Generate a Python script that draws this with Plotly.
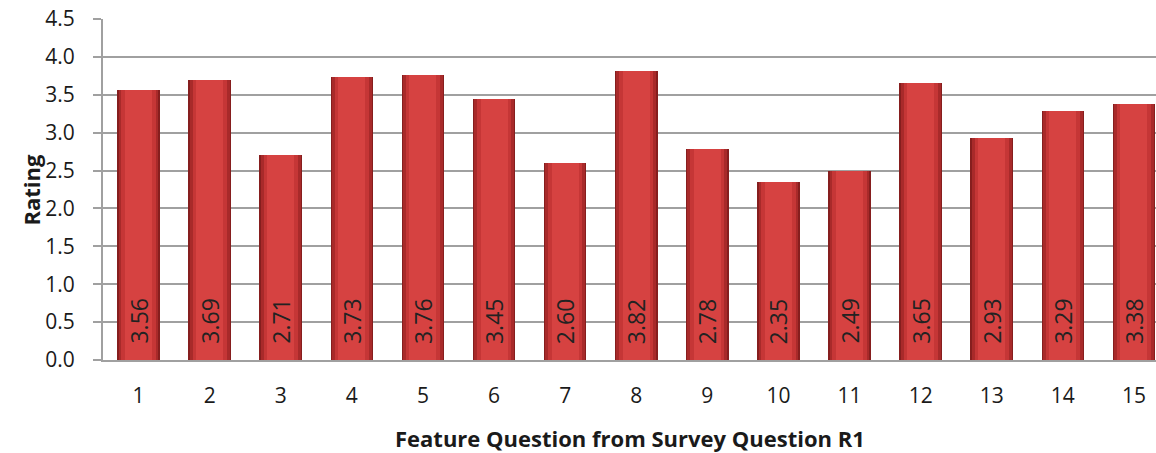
import plotly.graph_objects as go

questions = [str(i) for i in range(1, 16)]
ratings = [3.56, 3.69, 2.71, 3.73, 3.76, 3.45, 2.60, 3.82, 2.78, 2.35, 2.49, 3.65, 2.93, 3.29, 3.38]
y_ticks = [0.0, 0.5, 1.0, 1.5, 2.0, 2.5, 3.0, 3.5, 4.0, 4.5]

x_title = "Feature Question from Survey Question R1"
y_title = "Rating"

FONT = "'Open Sans', Lato, sans-serif"
xs = list(range(1, 16))

fig = go.Figure()
# layered bars to mimic the bevelled/gradient look
for w, col in [(0.6, "#861e1e"), (0.56, "#a82a2a"), (0.48, "#c53636"), (0.38, "#d64241")]:
    fig.add_trace(go.Bar(x=xs, y=ratings, width=w, marker=dict(color=col, line=dict(width=0)),
                         hoverinfo="skip", showlegend=False))

annotations = []
for x, v in zip(xs, ratings):
    annotations.append(dict(x=x, y=0, xref="x", yref="y", text=f"{v:.2f}", showarrow=False,
                            textangle=-90, yanchor="bottom", xanchor="center", yshift=14,
                            font=dict(family=FONT, size=23, color="#222222")))
annotations.append(dict(x=0.5, y=-0.0, xref="paper", yref="paper", text=f"<b>{x_title}</b>",
                        showarrow=False, yanchor="middle", yshift=-78,
                        font=dict(family=FONT, size=22, color="#1a1a1a")))
annotations.append(dict(x=0, y=0.5, xref="paper", yref="paper", text=f"<b>{y_title}</b>",
                        showarrow=False, textangle=-90, xanchor="center", xshift=-73,
                        font=dict(family=FONT, size=22, color="#1a1a1a")))

fig.update_layout(
    width=1156, height=453,
    margin=dict(l=103, r=0, t=19, b=93),
    paper_bgcolor="white", plot_bgcolor="white",
    barmode="overlay", bargap=0,
    annotations=annotations,
    font=dict(family=FONT, size=21, color="#1a1a1a"),
)
fig.update_xaxes(
    range=[0.5, 0.5 + (1156 - 103) / 71.1],
    tickmode="array", tickvals=xs, ticktext=questions,
    showgrid=False, zeroline=False,
    showline=True, linecolor="#a0a0a0", linewidth=2,
    ticks="", ticklabelstandoff=16,
    tickfont=dict(family=FONT, size=21, color="#1a1a1a"),
)
fig.update_yaxes(
    range=[0, 4.5],
    tickmode="array", tickvals=y_ticks, ticktext=[f"{t:.1f}" for t in y_ticks],
    showgrid=True, gridcolor="#a0a0a0", gridwidth=2,
    zeroline=False,
    showline=True, linecolor="#a0a0a0", linewidth=2,
    ticks="outside", ticklen=8, tickcolor="#a0a0a0", tickwidth=2,
    ticklabelstandoff=14,
    tickfont=dict(family=FONT, size=21, color="#1a1a1a"),
)

fig.write_html("out.html")
